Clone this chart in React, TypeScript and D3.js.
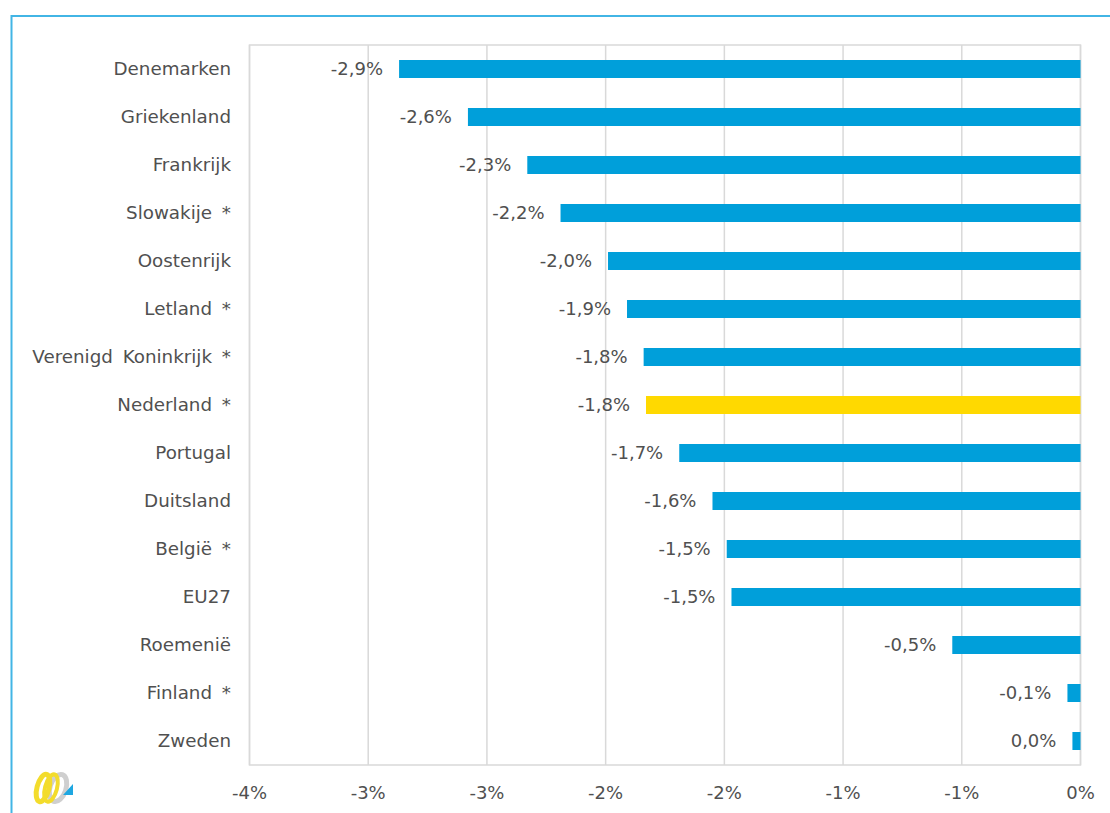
import React, { useEffect, useRef } from "react";
import * as d3 from "d3";

const countries = [
  "Denemarken",
  "Griekenland",
  "Frankrijk",
  "Slowakije *",
  "Oostenrijk",
  "Letland *",
  "Verenigd Koninkrijk *",
  "Nederland *",
  "Portugal",
  "Duitsland",
  "België *",
  "EU27",
  "Roemenië",
  "Finland *",
  "Zweden",
];

// change in percent (fraction)
const values = [
  -0.0287, -0.0258, -0.0233, -0.0219, -0.0199, -0.0191, -0.0184, -0.0183,
  -0.0169, -0.0155, -0.0149, -0.0147, -0.0054, -0.00055, -0.00034,
];

const highlight = ["Nederland *"];

const tickValues = [-0.035, -0.03, -0.025, -0.02, -0.015, -0.01, -0.005, 0];

const W = 1110;
const H = 813;
const margin = { top: 45, right: 29.5, bottom: 48, left: 249.5 };

const BLUE = "#009fda";
const YELLOW = "#ffd900";
const GRID = "#d9d9d9";
const TEXT = "#505050";

const fmtTick = (t: number) => {
  const v = t * 100;
  const r = Math.sign(v) * Math.round(Math.abs(v));
  return `${r === 0 ? 0 : r}%`;
};

const fmtValue = (v: number) => {
  let s = (v * 100).toFixed(1);
  if (s === "-0.0") s = "0.0";
  return s.replace(".", ",") + "%";
};

const Chart = () => {
  const ref = useRef<SVGSVGElement>(null);

  useEffect(() => {
    const svg = d3.select(ref.current);
    svg.selectAll("*").remove();

    const x = d3
      .scaleLinear()
      .domain([-0.035, 0])
      .range([margin.left, W - margin.right]);

    const y = d3
      .scaleBand<string>()
      .domain(countries)
      .range([margin.top, H - margin.bottom])
      .paddingInner(0.625)
      .paddingOuter(0.3125);

    const font = "'DejaVu Sans', Verdana, sans-serif";

    // outer frame
    svg
      .append("path")
      .attr("d", `M11.5,${H} V16 H${W}`)
      .attr("fill", "none")
      .attr("stroke", "#42b5e5")
      .attr("stroke-width", 2);

    // gridlines
    svg
      .append("g")
      .selectAll("line")
      .data(tickValues)
      .join("line")
      .attr("x1", (d) => x(d))
      .attr("x2", (d) => x(d))
      .attr("y1", margin.top)
      .attr("y2", H - margin.bottom)
      .attr("stroke", GRID)
      .attr("stroke-width", 1.5);

    // plot border
    svg
      .append("rect")
      .attr("x", margin.left)
      .attr("y", margin.top)
      .attr("width", W - margin.right - margin.left)
      .attr("height", H - margin.bottom - margin.top)
      .attr("fill", "none")
      .attr("stroke", GRID)
      .attr("stroke-width", 1.5);

    // bars
    svg
      .append("g")
      .selectAll("rect")
      .data(countries)
      .join("rect")
      .attr("x", (_, i) => x(values[i]))
      .attr("y", (d) => y(d)!)
      .attr("width", (_, i) => x(0) - x(values[i]))
      .attr("height", y.bandwidth())
      .attr("fill", (d) => (highlight.includes(d) ? YELLOW : BLUE));

    // value labels
    svg
      .append("g")
      .selectAll("text")
      .data(countries)
      .join("text")
      .attr("x", (_, i) => x(values[i]) - 16)
      .attr("y", (d) => y(d)! + y.bandwidth() / 2)
      .attr("dy", "0.35em")
      .attr("text-anchor", "end")
      .attr("font-family", font)
      .attr("font-size", 18)
      .attr("fill", TEXT)
      .text((_, i) => fmtValue(values[i]));

    // category labels
    svg
      .append("g")
      .selectAll("text")
      .data(countries)
      .join("text")
      .attr("x", 231)
      .attr("y", (d) => y(d)! + y.bandwidth() / 2)
      .attr("dy", "0.35em")
      .attr("text-anchor", "end")
      .attr("font-family", font)
      .attr("font-size", 18.3)
      .attr("word-spacing", 4)
      .attr("fill", TEXT)
      .text((d) => d);

    // x axis labels
    svg
      .append("g")
      .selectAll("text")
      .data(tickValues)
      .join("text")
      .attr("x", (d) => x(d))
      .attr("y", 793)
      .attr("dy", "0.35em")
      .attr("text-anchor", "middle")
      .attr("font-family", font)
      .attr("font-size", 18)
      .attr("fill", TEXT)
      .text((d) => fmtTick(d));

    // logo
    const logo = svg.append("g").attr("transform", "translate(34,771)");
    logo
      .append("ellipse")
      .attr("cx", 24)
      .attr("cy", 17)
      .attr("rx", 8)
      .attr("ry", 14)
      .attr("fill", "none")
      .attr("stroke", "#cfcfcf")
      .attr("stroke-width", 5)
      .attr("transform", "rotate(18,24,17)");
    logo
      .append("ellipse")
      .attr("cx", 9)
      .attr("cy", 17)
      .attr("rx", 6)
      .attr("ry", 14)
      .attr("fill", "none")
      .attr("stroke", "#f3dc2c")
      .attr("stroke-width", 5)
      .attr("transform", "rotate(15,9,17)");
    logo
      .append("ellipse")
      .attr("cx", 17)
      .attr("cy", 17)
      .attr("rx", 6)
      .attr("ry", 14)
      .attr("fill", "none")
      .attr("stroke", "#f3dc2c")
      .attr("stroke-width", 4)
      .attr("transform", "rotate(15,17,17)");
    logo
      .append("path")
      .attr("d", "M29,24 L39,13 L39,24 Z")
      .attr("fill", "#1ea7e1");
  }, []);

  return (
    <svg
      ref={ref}
      width={W}
      height={H}
      style={{ position: "absolute", left: 0, top: 0, background: "#fff" }}
    />
  );
};

export default function App() {
  return <Chart />;
}
